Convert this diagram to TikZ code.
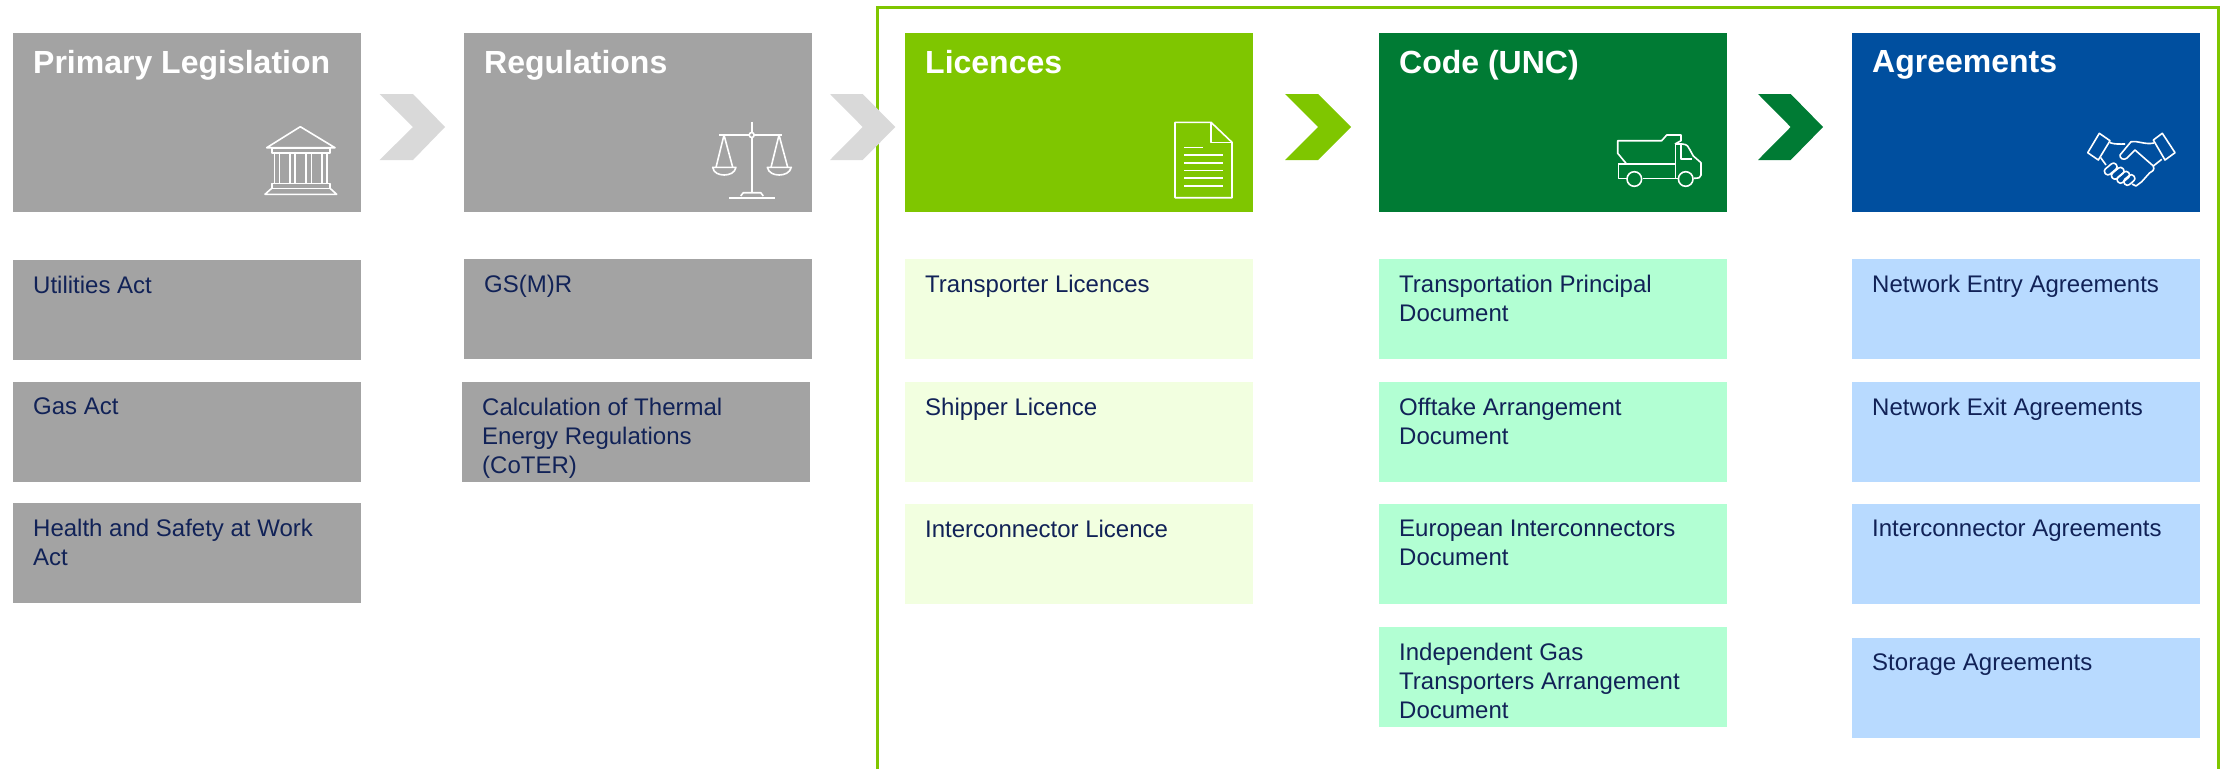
\documentclass[tikz,border=0pt]{standalone}
\usepackage{fontspec}
\setmainfont{Liberation Sans}
\definecolor{lawgray}{HTML}{A3A3A3}
\definecolor{arrowgray}{HTML}{D9D9D9}
\definecolor{limegreen}{HTML}{7FC600}
\definecolor{codegreen}{HTML}{007B34}
\definecolor{agreeblue}{HTML}{004F9F}
\definecolor{palelime}{HTML}{F2FFE0}
\definecolor{palemint}{HTML}{B2FFD3}
\definecolor{paleblue}{HTML}{B8DAFF}
\definecolor{inknavy}{HTML}{112257}
\newcommand{\headtext}[1]{\parbox[c][179pt][t]{308pt}{\vspace*{17pt}\fontsize{32}{36}\selectfont\bfseries #1}}
\newcommand{\itemtext}[1]{\parbox[c][100pt][t]{308pt}{\vspace*{16pt}\fontsize{24}{29}\selectfont #1}}
\tikzset{
  card/.style={anchor=north west,inner sep=0pt,inner xsep=20pt,minimum width=348pt},
  headcard/.style={card,text=white,minimum height=179pt},
  itemcard/.style={card,text=inknavy,minimum height=100pt},
  icon/.style={draw=white,line width=1.6pt,line join=round}
}
\begin{document}
\begin{tikzpicture}[x=1pt,y=-1pt]
\useasboundingbox (0,0) rectangle (2223,769);
\node[headcard,fill=lawgray] (primary) at (13,33) {\headtext{Primary Legislation}};
\node[headcard,fill=lawgray] (regs) at (464,33) {\headtext{Regulations}};
\node[headcard,fill=limegreen] (licences) at (905,33) {\headtext{Licences}};
\node[headcard,fill=codegreen] (code) at (1379,33) {\headtext{Code (UNC)}};
\node[headcard,fill=agreeblue] (agreements) at (1852,33) {\headtext{Agreements}};
\node[itemcard,fill=lawgray] (utilities) at (13,260) {\itemtext{Utilities Act}};
\node[itemcard,fill=lawgray] (gasact) at (13,382) {\itemtext{Gas Act}};
\node[itemcard,fill=lawgray] (safety) at (13,503) {\itemtext{Health and Safety at Work\\Act}};
\node[itemcard,fill=lawgray] (gsmr) at (464,259) {\itemtext{GS(M)R}};
\node[itemcard,fill=lawgray] (coter) at (462,382) {\itemtext{Calculation of Thermal\\Energy Regulations\\(CoTER)}};
\node[itemcard,fill=palelime] (transporter) at (905,259) {\itemtext{Transporter Licences}};
\node[itemcard,fill=palelime] (shipper) at (905,382) {\itemtext{Shipper Licence}};
\node[itemcard,fill=palelime] (interlic) at (905,504) {\itemtext{Interconnector Licence}};
\node[itemcard,fill=palemint] (tpd) at (1379,259) {\itemtext{Transportation Principal\\Document}};
\node[itemcard,fill=palemint] (oad) at (1379,382) {\itemtext{Offtake Arrangement\\Document}};
\node[itemcard,fill=palemint] (eid) at (1379,504) {\itemtext{European Interconnectors\\Document}};
\node[itemcard,fill=palemint] (igtad) at (1379,627) {\itemtext{Independent Gas\\Transporters Arrangement\\Document}};
\node[itemcard,fill=paleblue] (entry) at (1852,259) {\itemtext{Network Entry Agreements}};
\node[itemcard,fill=paleblue] (exit) at (1852,382) {\itemtext{Network Exit Agreements}};
\node[itemcard,fill=paleblue] (interagr) at (1852,504) {\itemtext{Interconnector Agreements}};
\node[itemcard,fill=paleblue] (storage) at (1852,638) {\itemtext{Storage Agreements}};
\draw[limegreen,line width=3pt] (877.5,769) -- (877.5,7.5) -- (2218.5,7.5) -- (2218.5,769);
\fill[arrowgray] (379.5,94) -- (413,94) -- (445,127) -- (413,160) -- (379.5,160) -- (413,127) -- cycle;
\fill[arrowgray] (830,94) -- (862.7,94) -- (895.3,127) -- (862.7,160) -- (830,160) -- (862.7,127) -- cycle;
\fill[limegreen] (1285,94) -- (1318,94) -- (1351,127) -- (1318,160) -- (1285,160) -- (1318,127) -- cycle;
\fill[codegreen] (1758,94) -- (1790.7,94) -- (1823,127) -- (1790.7,160) -- (1758,160) -- (1790.7,127) -- cycle;
\draw[icon] (266.7,147.7) -- (300.3,126.7) -- (335,147.7) -- cycle;
\draw[icon] (271.7,147.7) rectangle (330,152.7);
\draw[icon] (274.3,152.7) rectangle (279.3,183.3);
\draw[icon] (290,152.7) rectangle (295,183.3);
\draw[icon] (305.7,152.7) rectangle (311.3,183.3);
\draw[icon] (321.7,152.7) rectangle (326.7,183.3);
\draw[icon] (271.7,183.3) rectangle (330,188.3);
\draw[icon] (271.7,188.3) -- (265,194.3) -- (336.7,194.3) -- (330,188.3);
\draw[icon] (751.7,121.7) -- (751.7,132.5);
\draw[icon] (751.7,137.5) -- (751.7,193.3);
\draw[icon] (751.7,135) circle (2.5);
\draw[icon] (719.3,135) -- (749.2,135);
\draw[icon] (754.2,135) -- (781.7,135);
\draw[icon] (716,167.3) -- (724,135) -- (732.7,167.3);
\draw[icon] (712.7,167.3) -- (736,167.3) .. controls (735,173) and (729,175) .. (724.3,175) .. controls (719,175) and (713.5,173) .. cycle;
\draw[icon] (771,167.3) -- (779,135) -- (787.7,167.3);
\draw[icon] (767.3,167.3) -- (791.3,167.3) .. controls (790,173) and (784,175) .. (779.3,175) .. controls (774,175) and (768.5,173) .. cycle;
\draw[icon] (729,198) -- (774.7,198);
\draw[icon] (740.7,196) -- (743.3,192.7) -- (760.7,192.7) -- (763.3,196);
\draw[icon] (1175,122.3) -- (1211,122.3) -- (1232,142.3) -- (1232,197.7) -- (1175,197.7) -- cycle;
\draw[icon] (1211,122.3) -- (1211,142.3) -- (1232,142.3);
\draw[icon] (1184.3,147.3) -- (1202.7,147.3);
\foreach \liney in {155,162.7,170.3,178,185.7}
  \draw[icon] (1184.3,\liney) -- (1222.7,\liney);
\draw[icon] (1626,163.3) -- (1617.7,153.3) -- (1617.7,140.7) -- (1661.7,140.7) -- (1666.7,135) -- (1681,135) -- (1681,140.7) -- (1675,144);
\draw[icon] (1618.3,164) -- (1676,164);
\draw[icon] (1627,178.3) -- (1618.3,178.3) -- (1618.3,164);
\draw[icon] (1634.3,179) circle (7.3);
\draw[icon] (1642.5,178.3) -- (1677.5,178.3);
\draw[icon] (1675.5,144) -- (1675.5,178.3);
\draw[icon] (1685.7,179) circle (7.3);
\draw[icon] (1675.5,144) -- (1682,144) .. controls (1687,144) and (1689,147) .. (1690,150) -- (1693.3,156) -- (1701,162.7) -- (1701,175) .. controls (1701,177.5) and (1699,178.3) .. (1694,178.3);
\draw[icon] (1681,145) -- (1681,159) -- (1692.3,159);
\draw[icon] (2099.3,133.3) -- (2110,140.7) -- (2098.3,160) -- (2087.7,152.7) -- cycle;
\draw[icon] (2162.3,133.3) -- (2153.3,140) -- (2165,160) -- (2175,152.7) -- cycle;
\draw[icon] (2110,142.7) .. controls (2115,144.5) and (2120,144) .. (2125,144);
\draw[icon] (2154,143) .. controls (2145,145) and (2138,140.5) .. (2131,141.7) -- (2120,155) .. controls (2119.5,158.5) and (2123.5,160.5) .. (2126.7,158.3) -- (2135,150) -- (2153.3,166) -- (2161.7,159.3);
\draw[icon] (2153.3,166) .. controls (2155,170) and (2152,172) .. (2149.5,173) -- (2141.7,181.7) -- (2136,186) -- (2132,184);
\draw[icon] (2100.7,157.7) -- (2106,165);
\draw[icon,rounded corners=3pt,rotate around={40:(2110.7,169)}] (2103.7,165.5) rectangle (2117.7,172.5);
\draw[icon,rounded corners=3pt,rotate around={40:(2117.7,173.3)}] (2110.7,169.8) rectangle (2124.7,176.8);
\draw[icon,rounded corners=3pt,rotate around={40:(2123.3,177.3)}] (2116.3,173.8) rectangle (2130.3,180.8);
\draw[icon,rounded corners=3pt,rotate around={40:(2129.3,180)}] (2123.3,176.5) rectangle (2135.3,183.5);
\end{tikzpicture}
\end{document}
